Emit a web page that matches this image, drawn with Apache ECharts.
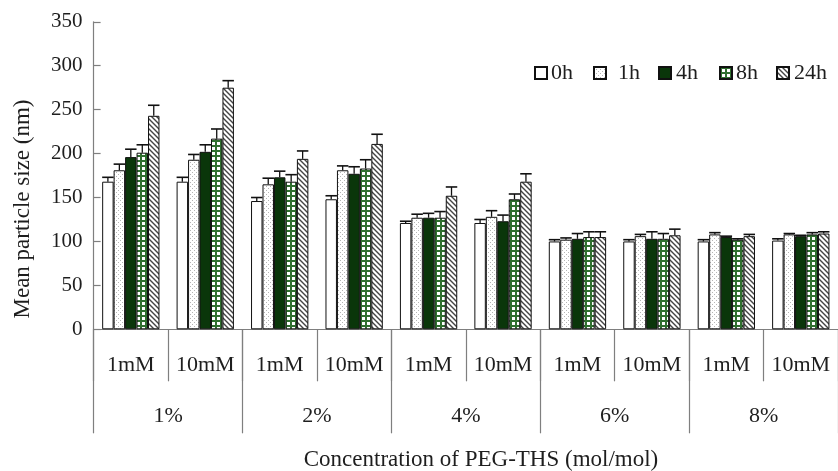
<!DOCTYPE html>
<html>
<head>
<meta charset="utf-8">
<script src="https://cdn.jsdelivr.net/npm/echarts@6/dist/echarts.min.js"></script>
<style>
  html, body { margin: 0; padding: 0; background: #fff; }
  #chart { width: 838px; height: 471px; }
</style>
</head>
<body>
<div id="chart"></div>
<script>
// ---- data ----
const categories = ['1mM', '10mM', '1mM', '10mM', '1mM', '10mM', '1mM', '10mM', '1mM', '10mM'];
const groups = ['1%', '2%', '4%', '6%', '8%'];
const seriesNames = ['0h', '1h', '4h', '8h', '24h'];
const yTicks = [0, 50, 100, 150, 200, 250, 300, 350];

const v0h  = [168, 168, 146, 148, 121, 121, 100, 100, 100, 101];
const v1h  = [181, 193, 165, 181, 127, 128, 102, 106, 108, 108];
const v4h  = [196, 202, 173, 177, 127, 123, 103, 103, 105, 106];
const v8h  = [201, 217, 168, 183, 127, 148, 105, 103, 102, 108];
const v24h = [243, 275, 194, 211, 152, 168, 105, 107, 106, 109];

const e0h  = [5, 5, 4, 4, 2, 4, 2, 2, 2, 2];
const e1h  = [7, 6, 7, 5, 4, 7, 2, 2, 2, 1];
const e4h  = [9, 8, 7, 8, 5, 7, 6, 8, 1, 1];
const e8h  = [9, 11, 8, 10, 7, 6, 6, 6, 1, 2];
const e24h = [12, 8, 9, 11, 10, 9, 6, 7, 2, 2];

const values = [v0h, v1h, v4h, v8h, v24h];
const errors = [e0h, e1h, e4h, e8h, e24h];

// ---- patterns ----
function tile(w, h, draw) {
  const c = document.createElement('canvas');
  c.width = w; c.height = h;
  const ctx = c.getContext('2d');
  ctx.fillStyle = '#ffffff';
  ctx.fillRect(0, 0, w, h);
  draw(ctx);
  return { image: c, repeat: 'repeat' };
}
const patDots = tile(4, 4, ctx => {
  ctx.fillStyle = '#b5b5b5';
  ctx.fillRect(0, 0, 1, 1);
  ctx.fillRect(2, 2, 1, 1);
});
const patGrid = tile(5, 5, ctx => {
  ctx.fillStyle = '#2f6f2f';
  ctx.fillRect(0, 0, 5, 2);
  ctx.fillRect(0, 0, 2, 5);
});
const patHatch = tile(5, 5, ctx => {
  ctx.strokeStyle = '#444444';
  ctx.lineWidth = 1.4;
  ctx.beginPath();
  ctx.moveTo(-1, -1); ctx.lineTo(6, 6);
  ctx.moveTo(-1, 4); ctx.lineTo(1, 6);
  ctx.moveTo(4, -1); ctx.lineTo(6, 1);
  ctx.stroke();
});
const fills = ['#ffffff', patDots, '#0a360a', patGrid, patHatch];

const FONT = 'Liberation Serif';
const TXT = '#1e1e1e';
const AX = '#7f7f7f';
const GAP = 0.23;

const series = [];
seriesNames.forEach((name, i) => {
  series.push({
    name: name,
    type: 'bar',
    data: values[i],
    barGap: '0%',
    barCategoryGap: (GAP * 100) + '%',
    itemStyle: { color: fills[i], borderColor: '#111', borderWidth: 1 },
    emphasis: { disabled: true }
  });
});
seriesNames.forEach((name, i) => {
  series.push({
    name: 'err_' + name,
    type: 'custom',
    data: values[i].map((v, k) => [k, v, errors[i][k]]),
    encode: { x: 0, y: 1 },
    z: 5,
    renderItem: function (params, api) {
      const cat = api.value(0), val = api.value(1), err = api.value(2);
      const band = api.size([1, 0])[0];
      const bw = band * (1 - GAP) / 5;
      const base = api.coord([cat, val]);
      const top = api.coord([cat, val + err]);
      const x = base[0] + (i - 2) * bw;
      return {
        type: 'group',
        children: [
          { type: 'line', shape: { x1: x, y1: base[1], x2: x, y2: top[1] }, style: { stroke: '#111', lineWidth: 1.3 } },
          { type: 'line', shape: { x1: x - bw / 2, y1: top[1], x2: x + bw / 2, y2: top[1] }, style: { stroke: '#111', lineWidth: 1.6 } }
        ]
      };
    }
  });
});

// one legend per item so each sits where the reference puts it
const legendLefts = [534, 593, 658, 719, 776];
const legendPads = [-1, 7, 0, -1, 0];
const legends = seriesNames.map((name, i) => ({
  data: [name],
  left: legendLefts[i],
  top: 62,
  padding: 0,
  itemWidth: 12,
  itemHeight: 12,
  icon: 'rect',
  selectedMode: false,
  textStyle: { fontFamily: FONT, fontSize: 22, color: TXT, padding: [0, 0, 0, legendPads[i]] }
}));

const chart = echarts.init(document.getElementById('chart'), null, { renderer: 'canvas' });
chart.setOption({
  animation: false,
  backgroundColor: '#ffffff',
  textStyle: { fontFamily: FONT },
  grid: { left: 93.6, right: -8, top: 21.8, bottom: 141.7, containLabel: false },
  legend: legends,
  xAxis: [
    {
      type: 'category',
      data: categories,
      position: 'bottom',
      boundaryGap: true,
      axisLine: { show: true, lineStyle: { color: AX, width: 1.2 } },
      axisTick: { show: true, interval: 0, length: 52, lineStyle: { color: AX, width: 1.2 } },
      axisLabel: { interval: 0, margin: 25, fontFamily: FONT, fontSize: 22, color: TXT },
      splitLine: { show: false }
    },
    {
      type: 'category',
      data: groups,
      position: 'bottom',
      offset: 0,
      boundaryGap: true,
      axisLine: { show: false },
      axisTick: { show: true, interval: 0, length: 104, lineStyle: { color: AX, width: 1.2 } },
      axisLabel: { interval: 0, margin: 76, fontFamily: FONT, fontSize: 22, color: TXT },
      splitLine: { show: false }
    }
  ],
  yAxis: {
    type: 'value',
    min: yTicks[0],
    max: yTicks[yTicks.length - 1],
    interval: 50,
    axisLine: { show: true, lineStyle: { color: AX, width: 1.2 } },
    axisTick: { show: true, inside: true, length: 7, lineStyle: { color: AX, width: 1.2 } },
    axisLabel: { margin: 11, fontFamily: FONT, fontSize: 21, color: TXT },
    splitLine: { show: false }
  },
  graphic: [
    {
      type: 'text',
      x: 481, y: 460,
      style: { text: 'Concentration of PEG-THS (mol/mol)', font: '23px "Liberation Serif"', fill: TXT, textAlign: 'center', textVerticalAlign: 'middle' }
    },
    {
      type: 'text',
      x: 23, y: 209,
      rotation: Math.PI / 2,
      style: { text: 'Mean particle size (nm)', font: '23px "Liberation Serif"', fill: TXT, textAlign: 'center', textVerticalAlign: 'middle' }
    }
  ],
  series: series
});
</script>
</body>
</html>
